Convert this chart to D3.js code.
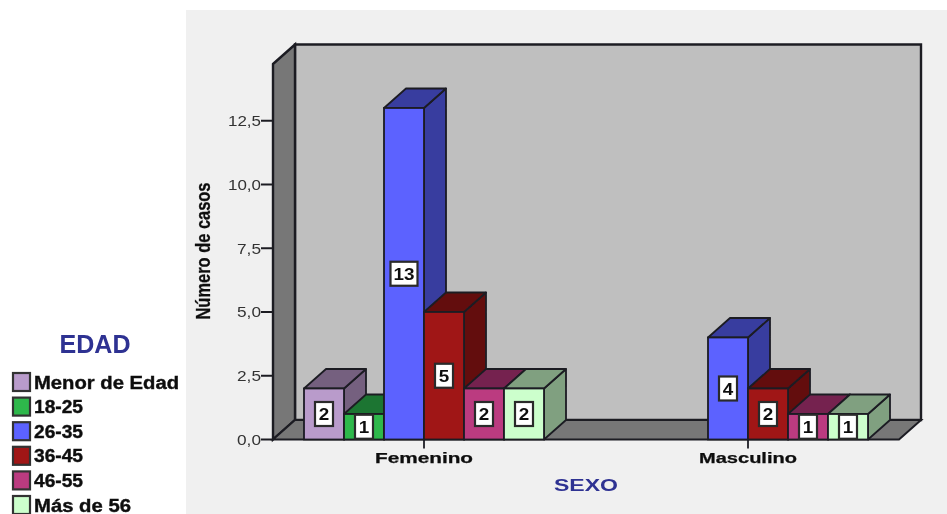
<!DOCTYPE html>
<html><head><meta charset="utf-8">
<script src="https://cdn.jsdelivr.net/npm/d3@7"></script>
<style>html,body{margin:0;padding:0;background:#fff}svg{display:block}text{font-family:"Liberation Sans",Arial,sans-serif}</style>
</head><body><svg id="c" width="947" height="514"></svg>
<script>
const ageGroups = ["Menor de Edad","18-25","26-35","36-45","46-55","Más de 56"];
const sexes = ["Femenino","Masculino"];
const femenino = [2,1,13,5,2,2];
const masculino = [0,0,4,2,1,1];
const tickValues = [0,2.5,5,7.5,10,12.5];
const frontColors = ["#b99bcb","#2eb84c","#5b62ff","#a01416","#bb3a80","#ccffcc"];
const topColors   = ["#75607f","#1c7430","#393d9f","#640d0e","#752450","#80a080"];
const sideColors  = topColors;
const seriesBySex = [femenino, masculino];

const svg = d3.select("#c");
const W = 947, H = 514;
const defs = svg.append("defs");
defs.append("filter").attr("id","soft").attr("x","0").attr("y","0").attr("width","100%").attr("height","100%")
  .append("feGaussianBlur").attr("stdDeviation",0.55);
const root = svg.append("g").attr("filter","url(#soft)");
root.append("rect").attr("width",W).attr("height",H).attr("fill","#fff");

const depth = {dx: 22, dy: -19.5};
const y = d3.scaleLinear().domain([0, 14.725]).range([439.5, 64]);
const groupCenter = d3.scalePoint().domain(sexes).range([424, 748]);
const slot = d3.scaleLinear().domain([0,1]).range([0,40]);
const stroke = "#1c1c24";
const poly = pts => d3.line()(pts) + "Z";

root.append("rect").attr("x",186).attr("y",10).attr("width",W-186).attr("height",H-10).attr("fill","#f0f0f0");

const xL = 273, xR = 899, y0 = y(0), yT = y.range()[1];
root.append("path").attr("d",poly([[xL+depth.dx,yT+depth.dy],[xR+depth.dx,yT+depth.dy],[xR+depth.dx,y0+depth.dy],[xL+depth.dx,y0+depth.dy]]))
  .attr("fill","#bfbfbf").attr("stroke",stroke).attr("stroke-width",2.4);
root.append("path").attr("d",poly([[xL,yT],[xL+depth.dx,yT+depth.dy],[xL+depth.dx,y0+depth.dy],[xL,y0]]))
  .attr("fill","#777777").attr("stroke",stroke).attr("stroke-width",2.4);
root.append("path").attr("d",poly([[xL,y0],[xL+depth.dx,y0+depth.dy],[xR+depth.dx,y0+depth.dy],[xR,y0]]))
  .attr("fill","#777777").attr("stroke",stroke).attr("stroke-width",2);

const yAxis = root.append("g");
tickValues.forEach(t=>{
  const label = d3.format(".1f")(t).replace(".",",");
  yAxis.append("line").attr("x1",xL-12).attr("x2",xL).attr("y1",y(t)).attr("y2",y(t)).attr("stroke",stroke).attr("stroke-width",2);
  yAxis.append("text").attr("x",xL-12).attr("y",y(t)+5.5).attr("text-anchor","end")
    .attr("font-size",14).attr("fill","#333")
    .attr("textLength",label.length>3?33:24).attr("lengthAdjust","spacingAndGlyphs").text(label);
});

sexes.forEach((s,i)=>{
  const vals = seriesBySex[i];
  const present = vals.map((v,k)=>({v,k})).filter(d=>d.v>0);
  const g = root.append("g");
  const labels = [];
  present.forEach(d=>{
    const x0 = groupCenter(s) + slot(d.k-3), x1 = x0 + slot(1), yt = y(d.v);
    g.append("path").attr("d",poly([[x1,yt],[x1+depth.dx,yt+depth.dy],[x1+depth.dx,y0+depth.dy],[x1,y0]]))
      .attr("fill",sideColors[d.k]).attr("stroke",stroke).attr("stroke-width",1.8).attr("stroke-linejoin","round");
    g.append("path").attr("d",poly([[x0,yt],[x0+depth.dx,yt+depth.dy],[x1+depth.dx,yt+depth.dy],[x1,yt]]))
      .attr("fill",topColors[d.k]).attr("stroke",stroke).attr("stroke-width",1.8).attr("stroke-linejoin","round");
    g.append("rect").attr("x",x0).attr("y",yt).attr("width",slot(1)).attr("height",y0-yt)
      .attr("fill",frontColors[d.k]).attr("stroke",stroke).attr("stroke-width",1.8);
    labels.push({x:(x0+x1)/2,y:(yt+y0)/2,v:d.v});
  });
  labels.forEach(l=>{
    const w = String(l.v).length>1 ? 27 : 18;
    g.append("rect").attr("x",l.x-w/2).attr("y",l.y-12).attr("width",w).attr("height",24)
      .attr("fill","#fff").attr("stroke","#2a2a2a").attr("stroke-width",2.2);
    g.append("text").attr("x",l.x).attr("y",l.y+6.5).attr("text-anchor","middle")
      .attr("font-size",17).attr("font-weight","bold").attr("fill","#111")
      .attr("textLength",String(l.v).length>1?21:10.5).attr("lengthAdjust","spacingAndGlyphs").text(l.v);
  });
  root.append("line").attr("x1",groupCenter(s)).attr("x2",groupCenter(s)).attr("y1",y0).attr("y2",y0+9).attr("stroke",stroke).attr("stroke-width",1.8);
  root.append("text").attr("x",groupCenter(s)).attr("y",463).attr("text-anchor","middle")
    .attr("font-size",14).attr("font-weight","bold").attr("fill","#111").attr("stroke","#111").attr("stroke-width",0.25)
    .attr("textLength",98).attr("lengthAdjust","spacingAndGlyphs").text(s);
});

root.append("text").attr("x",586).attr("y",490.5).attr("text-anchor","middle").attr("font-size",16.5).attr("font-weight","bold")
  .attr("fill","#2e3192").attr("textLength",64).attr("lengthAdjust","spacingAndGlyphs").text("SEXO");
root.append("text").attr("transform","translate(210,251) rotate(-90)").attr("text-anchor","middle").attr("font-size",20).attr("font-weight","bold")
  .attr("fill","#111").attr("stroke","#111").attr("stroke-width",0.3).attr("textLength",137).attr("lengthAdjust","spacingAndGlyphs").text("Número de casos");

root.append("text").attr("x",95).attr("y",353).attr("text-anchor","middle").attr("font-size",25).attr("font-weight","bold")
  .attr("fill","#2e3192").attr("textLength",71).attr("lengthAdjust","spacingAndGlyphs").text("EDAD");
const legendY = d3.scalePoint().domain(ageGroups).range([382,505]);
const legendWidths = [145,49,49,49,49,97];
ageGroups.forEach((a,i)=>{
  const cy = legendY(a);
  root.append("rect").attr("x",13).attr("y",cy-9).attr("width",17).attr("height",18)
    .attr("fill",frontColors[i]).attr("stroke","#333").attr("stroke-width",2.2);
  root.append("text").attr("x",34).attr("y",cy+6.5).attr("font-size",18).attr("font-weight","bold").attr("fill","#111")
    .attr("stroke","#111").attr("stroke-width",0.4)
    .attr("textLength",legendWidths[i]).attr("lengthAdjust","spacingAndGlyphs").text(a);
});
</script></body></html>
